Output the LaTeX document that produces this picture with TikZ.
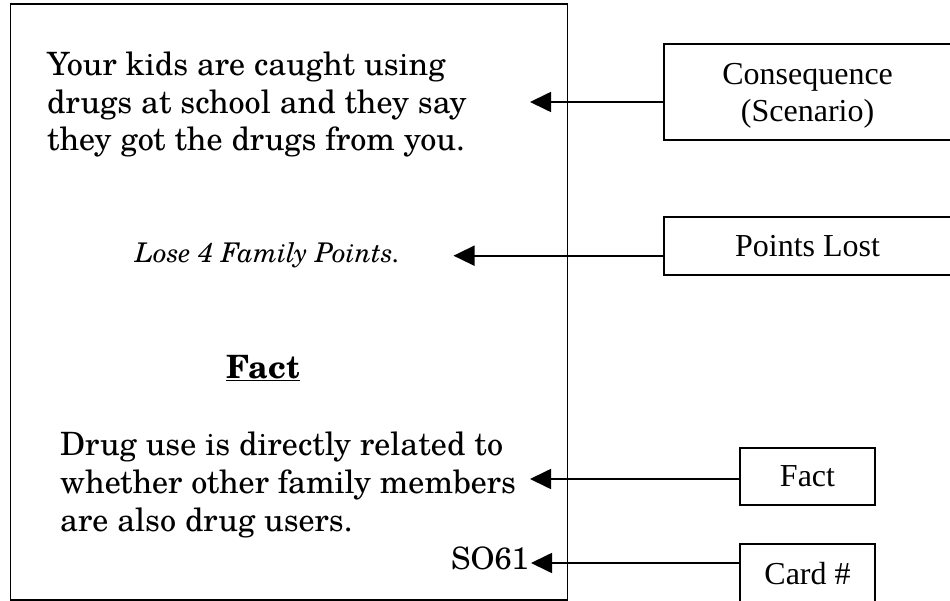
\documentclass[tikz,border=0pt]{standalone}
\usepackage{fontspec}
\setmainfont{texgyreschola}[Extension=.otf, UprightFont=*-regular, BoldFont=*-bold, ItalicFont=*-italic, BoldItalicFont=*-bolditalic]
\newfontfamily\tnr{Liberation Serif}
\usetikzlibrary{arrows.meta}
\begin{document}
\begin{tikzpicture}[x=1pt,y=-1pt,
  frame/.style={draw=black, line width=1.8pt, inner sep=0pt, outer sep=0pt},
  labelbox/.style={draw=black, line width=1.8pt, font=\tnr\fontsize{32}{36}\selectfont, align=center, inner sep=0pt, outer sep=0pt},
  labeltext/.style={font=\tnr\fontsize{32}{36}\selectfont, inner sep=0pt},
  conn/.style={line width=1.7pt, -{Triangle[length=21pt,width=20pt]}},
  cardtext/.style={font=\fontsize{32.1}{37.3}\selectfont, inner sep=0pt},
  cardtextb/.style={font=\fontsize{32.1}{38.3}\selectfont, inner sep=0pt}
]
\useasboundingbox (0,0) rectangle (950,601);
\fill[white] (0,0) rectangle (950,601);
% card
\node[frame, anchor=north west, minimum width=557pt, minimum height=596pt] (card) at (10.5,4) {};
% card texts
\node[cardtext, anchor=base west] (scen) at (47,76) {\begin{tabular}[t]{@{}l@{}}Your kids are caught using\\ drugs at school and they say\\ they got the drugs from you.\end{tabular}};
\node[font=\itshape\fontsize{27.1}{32}\selectfont, inner sep=0pt, anchor=base west] (lose) at (135,263) {Lose 4 Family Points.};
\node[font=\fontsize{32.1}{38.3}\selectfont\bfseries, inner sep=0pt, anchor=base] (facth) at (263,378.3) {\underline{Fact}};
\node[cardtextb, anchor=base west] (factt) at (60,455) {\begin{tabular}[t]{@{}l@{}}Drug use is directly related to\\ whether other family members\\ are also drug users.\end{tabular}};
\node[font=\fontsize{30.8}{36}\selectfont, inner sep=0pt, anchor=base east] (num) at (529,569) {SO61};
% label boxes
\node[labelbox, minimum width=287.8pt, minimum height=96pt] (cons) at (807.6,92) {};
\node[labeltext, anchor=base] (consT) at (807.6,84.5) {Consequence};
\node[labeltext, anchor=base] (scenT) at (807.6,122) {(Scenario)};
\node[labelbox, minimum width=287.8pt, minimum height=58pt] (pts) at (807.6,246) {Points Lost};
\node[labelbox, minimum width=135pt, minimum height=57pt] (factbox) at (807.5,476.5) {Fact};
\node[labelbox, minimum width=135pt, minimum height=58.5pt] (cardbox) at (807.5,573.25) {Card \#};
% connectors
\coordinate (tA) at (530,102);
\coordinate (tB) at (453.5,255.7);
\coordinate (tC) at (530,479);
\coordinate (tD) at (531,563);
\draw[conn] (cons.west |- tA) -- (tA);
\draw[conn] (pts.west |- tB) -- (tB);
\draw[conn] (factbox.west |- tC) -- (tC);
\draw[conn] (cardbox.west |- tD) -- (tD);
\end{tikzpicture}
\end{document}
